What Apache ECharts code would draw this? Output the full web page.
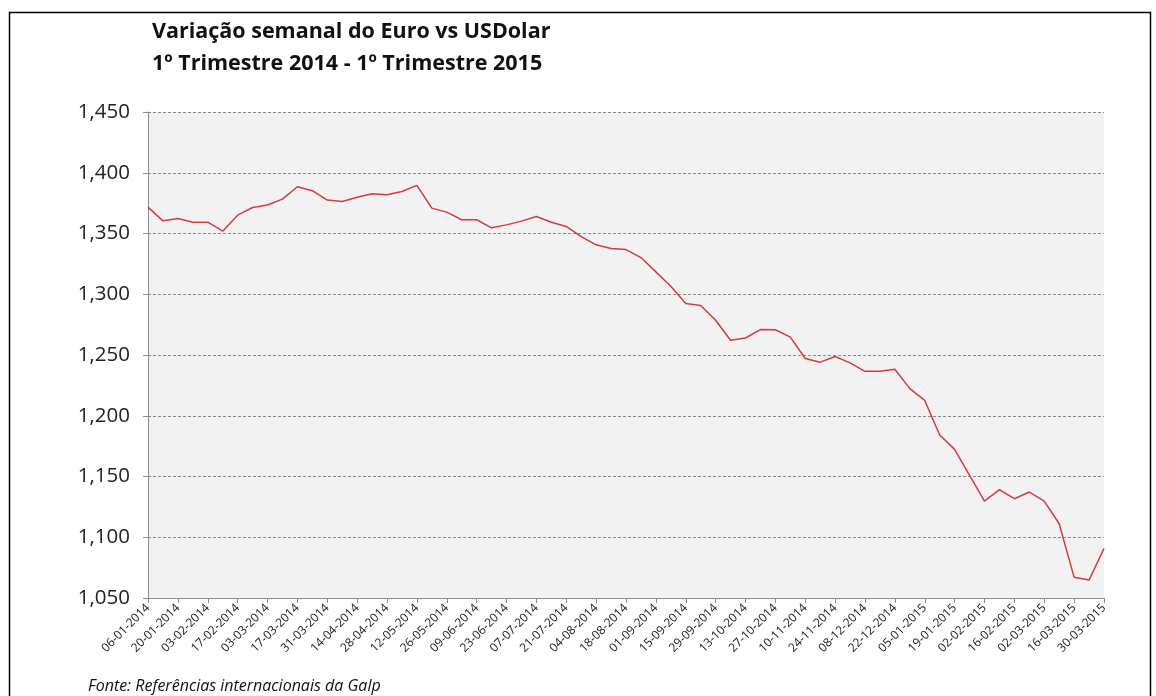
<!DOCTYPE html>
<html>
<head>
<meta charset="utf-8">
<script src="https://cdn.jsdelivr.net/npm/echarts@6/dist/echarts.min.js"></script>
<style>
html,body{margin:0;padding:0;background:#fff;}
#c{width:1156px;height:696px;}
</style>
</head>
<body>
<div id="c"></div>
<script>
const titleLines = ['Variação semanal do Euro vs USDolar', '1º Trimestre 2014 - 1º Trimestre 2015'];
const sourceNote = 'Fonte: Referências internacionais da Galp';

const weeks = [
  '06-01-2014','13-01-2014','20-01-2014','27-01-2014','03-02-2014','10-02-2014','17-02-2014','24-02-2014',
  '03-03-2014','10-03-2014','17-03-2014','24-03-2014','31-03-2014','07-04-2014','14-04-2014','21-04-2014',
  '28-04-2014','05-05-2014','12-05-2014','19-05-2014','26-05-2014','02-06-2014','09-06-2014','16-06-2014',
  '23-06-2014','30-06-2014','07-07-2014','14-07-2014','21-07-2014','28-07-2014','04-08-2014','11-08-2014',
  '18-08-2014','25-08-2014','01-09-2014','08-09-2014','15-09-2014','22-09-2014','29-09-2014','06-10-2014',
  '13-10-2014','20-10-2014','27-10-2014','03-11-2014','10-11-2014','17-11-2014','24-11-2014','01-12-2014',
  '08-12-2014','15-12-2014','22-12-2014','29-12-2014','05-01-2015','12-01-2015','19-01-2015','26-01-2015',
  '02-02-2015','09-02-2015','16-02-2015','23-02-2015','02-03-2015','09-03-2015','16-03-2015','23-03-2015',
  '30-03-2015'
];

const eurUsd = [
  1.3717,1.3604,1.3624,1.3593,1.3593,1.3519,1.3651,1.3714,
  1.3734,1.3783,1.3885,1.3852,1.3775,1.3764,1.3799,1.3827,
  1.3819,1.3846,1.3896,1.3709,1.3676,1.3613,1.3613,1.3547,
  1.3571,1.3602,1.3640,1.3593,1.3558,1.3475,1.3407,1.3376,
  1.3368,1.3302,1.3184,1.3066,1.2923,1.2907,1.2786,1.2621,
  1.2640,1.2709,1.2708,1.2647,1.2471,1.2441,1.2488,1.2435,
  1.2366,1.2366,1.2383,1.2223,1.2126,1.1841,1.1723,1.1509,
  1.1298,1.1392,1.1317,1.1372,1.1298,1.1111,1.0670,1.0648,
  1.0909
];

const yMin = 1.05, yMax = 1.45, yStep = 0.05;

const chart = echarts.init(document.getElementById('c'), null, {renderer: 'canvas'});
chart.setOption({
  animation: false,
  backgroundColor: '#ffffff',
  graphic: [
    {type: 'rect', left: 7, top: 10, shape: {x: 0, y: 0, width: 1141, height: 700},
     style: {fill: 'none', stroke: '#000', lineWidth: 1.5}, z: 0, silent: true},
    {type: 'text', left: 152, top: 16,
     style: {text: titleLines.join('\n'), font: 'bold 21.5px "Open Sans", sans-serif', lineHeight: 32, fill: '#111'}},
    {type: 'text', left: 88, top: 678,
     style: {text: sourceNote, font: 'italic 16px "Open Sans", sans-serif', fill: '#111'}}
  ],
  grid: {left: 148, top: 112, right: 52, bottom: 98, show: true, backgroundColor: '#f2f2f2', borderWidth: 0},
  xAxis: {
    type: 'category',
    data: weeks,
    boundaryGap: false,
    axisLine: {show: true, lineStyle: {color: '#8c8c8c', width: 1}},
    axisTick: {show: true, interval: 1, length: 5, lineStyle: {color: '#8c8c8c'}},
    axisLabel: {interval: 1, rotate: 45, fontSize: 12, color: '#222', margin: 8, fontFamily: '"Open Sans", sans-serif'},
    splitLine: {show: false}
  },
  yAxis: {
    type: 'value',
    min: yMin, max: yMax, interval: yStep,
    axisLine: {show: true, lineStyle: {color: '#8c8c8c', width: 1}},
    axisTick: {show: true, inside: false, length: 5, lineStyle: {color: '#8c8c8c'}},
    axisLabel: {fontSize: 20.5, color: '#222', margin: 18, fontFamily: '"Open Sans", sans-serif',
      formatter: v => v.toFixed(3).replace('.', ',')},
    splitLine: {show: true, lineStyle: {color: '#8a8a8a', type: [3, 2], width: 1}}
  },
  series: [{
    type: 'line',
    data: eurUsd,
    symbol: 'none',
    lineStyle: {color: '#d93a3a', width: 1.5},
    z: 3
  }]
});
</script>
</body>
</html>
